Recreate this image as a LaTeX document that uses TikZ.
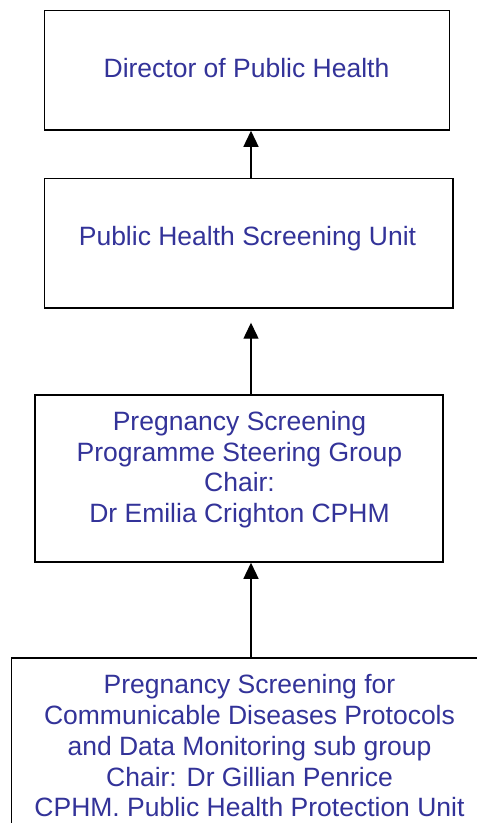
\documentclass[tikz,border=0pt]{standalone}
\usepackage{fontspec}
\setmainfont{Liberation Sans}
\usetikzlibrary{arrows.meta}
\definecolor{txtblue}{HTML}{333399}
\begin{document}
\begin{tikzpicture}[x=1pt,y=1pt,
  orgbox/.style={draw=black, line width=1.5pt, inner sep=0pt, fill=white},
  lbl/.style={text=txtblue, inner sep=0pt, align=center, anchor=base,
    font=\fontsize{26.5}{30.7}\selectfont},
  uparrow/.style={line width=1.3pt, -{Triangle[width=15pt,length=16pt]}}]
\useasboundingbox (0,0) rectangle (477,-823);
% boxes of the reporting chain, top to bottom
\node[orgbox, minimum width=405pt, minimum height=119.5pt] (b1) at (247,-70.25) {};
\node[orgbox, minimum width=408.5pt, minimum height=129.5pt] (b2) at (248.75,-243.25) {};
\node[orgbox, minimum width=408pt, minimum height=167pt] (b3) at (239,-478.5) {};
\node[orgbox, minimum width=476.5pt, minimum height=187pt] (b4) at (249.75,-751.5) {};
% box texts (base anchor sits on the last line)
\node[lbl] (t1) at (246.5,-77.3) {Director of Public Health};
\node[lbl] (t2) at (247.5,-245) {Public Health Screening Unit};
\node[lbl] (t3) at (239.5,-522.6) {Pregnancy Screening\\Programme Steering Group\\Chair:\\Dr Emilia Crighton CPHM};
\node[lbl] (t4) at (249.5,-816.7) {Pregnancy Screening for\\Communicable Diseases Protocols\\and Data Monitoring sub group\\Chair: Dr Gillian Penrice\\CPHM. Public Health Protection Unit};
% reporting arrows
\coordinate (a2end) at (251,-322.7);
\draw[uparrow] (b2.north -| 251,0) -- (b1.south -| 251,0);
\draw[uparrow] (b3.north -| 251,0) -- (a2end);
\draw[uparrow] (b4.north -| 251,0) -- (b3.south -| 251,0);
\end{tikzpicture}
\end{document}
